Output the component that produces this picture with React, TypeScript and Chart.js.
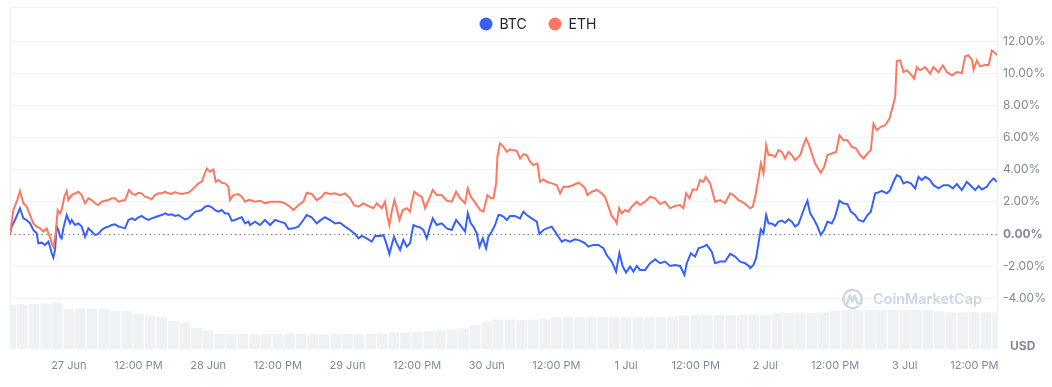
import { useEffect, useRef } from 'react';
import { Chart, registerables } from 'chart.js';

Chart.register(...registerables);

const FONT = 'Inter, "Noto Sans", "DejaVu Sans", sans-serif';
const GRID = '#eff2f5';
const TICK = '#808a9d';

const seriesNames = ['BTC', 'ETH'];
const seriesColors = ['#3861fb', '#ff775f'];

// [hours since 26 Jun 00:00, % change]
const btcPoints: [number, number][] = [
  [13.87, 0], [14.16, 0.46], [14.73, 0.87], [15.59, 1.6], [16.17, 0.97], [16.74, 0.87], [17.32, 0.66], [17.89, 0.25],
  [18.47, 0.04], [18.75, -0.58], [19.33, -0.54], [19.9, -0.68], [20.48, -0.48], [20.76, -0.79], [21.05, -1.2], [21.34, -1.47],
  [21.63, -0.99], [21.91, 0.46], [22.2, 0.25], [22.49, -0.17], [22.77, -0.27], [23.06, 0.35], [23.64, 1.18], [24.21, 0.66],
  [24.5, 0.87], [25.07, 0.56], [25.65, 0.66], [26.22, 0.46], [26.8, -0.17], [27.37, 0.35], [27.94, 0.15], [28.52, -0.06],
  [29.09, 0], [29.67, 0.25], [30.24, 0.39], [30.82, 0.46], [31.39, 0.56], [31.97, 0.6], [32.54, 0.46], [33.11, 0.41],
  [33.69, 0.35], [34.26, 0.87], [34.84, 0.97], [35.41, 0.87], [35.99, 1.04], [36.56, 1.12], [37.13, 0.97], [37.71, 0.87],
  [38.28, 0.97], [38.86, 1.04], [39.43, 1.12], [40.01, 1.18], [40.58, 1.28], [41.16, 1.18], [41.73, 1.22], [42.3, 1.12],
  [42.88, 1.18], [43.45, 1.04], [44.03, 0.91], [44.6, 0.97], [45.18, 1.18], [45.75, 1.39], [46.33, 1.43], [46.9, 1.49],
  [47.47, 1.7], [48.05, 1.76], [48.62, 1.66], [49.2, 1.49], [49.77, 1.39], [50.35, 1.49], [50.92, 1.28], [51.49, 1.28],
  [52.07, 0.83], [52.64, 0.87], [53.22, 0.97], [53.79, 1.04], [54.37, 0.66], [54.94, 0.77],
  [55.22, 0.56], [56.08, 0.77], [56.94, 0.56], [57.8, 0.87], [58.67, 0.56], [59.53, 0.87], [60.39, 0.77], [61.25, 0.66],
  [61.83, 0.31], [62.69, 0.35], [63.55, 0.46], [64.41, 0.87], [64.98, 1.18], [65.85, 1.04], [66.71, 0.66], [67.28, 0.83],
  [68.14, 1.04], [69.01, 0.87], [69.87, 0.66], [70.73, 0.7], [71.59, 0.46], [72.45, 0.25], [73.31, 0], [73.89, -0.27],
  [74.46, -0.12], [75.32, -0.27], [76.19, -0.48], [76.76, -0.12], [77.62, -0.12], [78.2, -0.06], [78.77, -0.68], [79.23, -1.24],
  [79.63, -0.68], [80.03, -0.17], [80.49, -0.58], [81.07, -0.99], [81.64, -0.37], [82.22, -0.79], [82.79, -0.58], [83.08, 0.04],
  [83.37, 0.56], [83.94, 0.46], [84.51, 0.41], [85.09, 0.25], [85.66, -0.27], [86.24, 0.46], [86.7, 0.97], [87.39, 0.56],
  [88.25, 0.66], [89.11, 0.35], [89.97, 0.25], [90.72, 0.87], [91.41, 0.56], [92.27, 0.15], [92.73, 1.28], [93.25, 0.66],
  [93.7, 0.46], [94.28, 0.04], [94.74, -0.79], [95.31, -0.27], [95.89, -0.89], [96.29, -0.17], [96.86, 0.15], [97.44, 0.56],
  [98.01, 1.18],
  [98.29, 1.18], [98.86, 1.08], [99.44, 0.87], [100.01, 1.12], [100.87, 1.12], [101.74, 0.97], [102.31, 1.39], [102.89, 1.18],
  [103.75, 0.97], [104.61, 0.77], [105.07, 0], [105.76, 0.25], [106.33, 0.35], [107.19, 0.46], [107.77, 0.15], [108.34, -0.17],
  [108.92, -0.48], [109.49, -0.37], [110.35, -0.48], [111.21, -0.33], [112.08, -0.41], [112.94, -0.58], [113.51, -0.79], [114.37, -0.68],
  [115.23, -0.68], [116.1, -0.89], [116.67, -1.31], [117.53, -1.72], [118.28, -2.34], [118.85, -1.2], [119.43, -2.03], [120.0, -2.4],
  [120.69, -2.03], [121.27, -2.34], [121.84, -1.99], [122.41, -2.24], [123.28, -2.24], [124.14, -1.82], [125.0, -1.58], [125.86, -1.82],
  [126.72, -1.72], [127.58, -1.99], [128.45, -1.93], [129.31, -1.99], [130.05, -2.55], [130.46, -1.82], [131.15, -1.2], [131.89, -1.41],
  [132.47, -0.89], [133.33, -0.79], [133.9, -0.68], [134.76, -1.1], [135.34, -1.82], [136.2, -1.72], [137.06, -1.72], [137.92, -1.24],
  [138.79, -1.41], [139.65, -1.72], [140.51, -1.82], [141.26, -2.03],
  [141.37, -2.13], [141.94, -1.93], [142.4, -1.51], [142.81, -0.58], [143.21, 0.29], [143.67, 0.04], [144.13, 1.18], [144.53, 0.66],
  [145.1, 0.66], [145.68, 0.5], [146.25, 0.77], [146.83, 0.83], [147.4, 0.7], [147.98, 0.91], [148.55, 0.77], [149.12, 0.46],
  [149.7, 0.62], [150.27, 1.18], [150.85, 1.74], [151.25, 2.07], [151.71, 1.28], [152.28, 0.97], [152.86, 0.56], [153.55, -0.06],
  [154.12, 0.25], [154.7, 0.77], [155.44, 0.66], [156.02, 1.08], [156.76, 2.07], [157.45, 1.9], [158.14, 1.86], [158.72, 1.39],
  [159.46, 1.18], [160.04, 0.87], [160.9, 0.77], [161.59, 1.18], [162.16, 1.39], [162.91, 2.53], [163.48, 2.59], [164.06, 2.69],
  [164.92, 2.53], [165.49, 2.73], [166.07, 3.25], [166.64, 3.66], [167.22, 3.56], [167.79, 3.15], [168.37, 3.25], [169.06, 3.15],
  [169.8, 2.84], [170.38, 3.56], [170.95, 3.35], [171.53, 3.56], [172.27, 3.4], [172.96, 3.04], [173.82, 2.84], [174.69, 3.04],
  [175.55, 3.04], [176.29, 2.84], [176.98, 3.11], [177.84, 2.73], [178.71, 3.25], [179.57, 2.94], [180.14, 2.73], [180.72, 2.98],
  [181.29, 2.77], [182.15, 2.94], [182.73, 3.25], [183.3, 3.46], [183.88, 3.25],
];

const ethPoints: [number, number][] = [
  [13.87, 0], [14.45, 1.49], [15.02, 2.01], [15.59, 2.67], [16.17, 1.91], [16.74, 1.7], [17.32, 1.18], [17.89, 0.66],
  [18.47, 0.46], [19.04, 0.35], [19.62, 0.15], [20.19, 0.35], [20.48, 0.04], [20.76, -0.17], [21.05, -0.58], [21.34, -0.79],
  [21.74, 0.04], [22.09, 1.49], [22.49, 1.28], [22.77, 1.49], [23.23, 2.32], [23.64, 2.67], [23.92, 2.11], [24.5, 2.42],
  [25.07, 2.53], [25.65, 2.63], [26.22, 2.42], [26.8, 1.91], [27.37, 2.22], [27.94, 2.11], [28.52, 1.91], [29.09, 1.8],
  [29.67, 2.01], [30.24, 2.07], [30.82, 2.11], [31.39, 2.22], [31.97, 2.22], [32.54, 2.01], [33.11, 2.07], [33.69, 2.11],
  [34.38, 2.74], [34.84, 2.53], [35.41, 2.42], [35.99, 2.57], [36.56, 2.53], [37.13, 2.32], [37.71, 2.26], [38.28, 2.16],
  [38.86, 2.42], [39.43, 2.53], [40.01, 2.53], [40.58, 2.63], [41.16, 2.53], [41.73, 2.49], [42.3, 2.61], [42.88, 2.53],
  [43.45, 2.49], [44.03, 2.53], [44.6, 2.57], [45.18, 2.74], [45.75, 2.94], [46.33, 3.15], [46.9, 3.25], [47.47, 3.81],
  [47.76, 4.08], [48.33, 3.88], [48.91, 4.02], [49.31, 3.25], [49.77, 3.36], [50.35, 3.19], [50.92, 3.15], [51.49, 2.94],
  [51.78, 2.11], [52.36, 2.42], [53.22, 2.49], [53.79, 2.32], [54.37, 2.01], [54.94, 2.11],
  [55.22, 2.11], [56.08, 2.01], [56.94, 2.07], [57.8, 1.91], [58.67, 2.01], [59.53, 2.01], [60.39, 2.01], [61.25, 1.91],
  [62.11, 1.7], [62.69, 1.49], [63.55, 1.8], [64.41, 2.01], [64.98, 2.57], [65.85, 2.49], [66.71, 2.11], [67.57, 2.32],
  [68.14, 2.57], [69.01, 2.49], [69.87, 2.53], [70.73, 2.42], [71.59, 2.53], [72.45, 2.22], [73.14, 1.8], [73.89, 1.7],
  [74.75, 1.91], [75.61, 1.74], [76.47, 1.6], [77.05, 1.91], [77.91, 1.6], [78.48, 2.01], [78.89, 1.08], [79.23, 0.56],
  [79.63, 1.39], [80.09, 2.11], [80.49, 1.6], [80.95, 0.87], [81.53, 1.49], [82.22, 1.6], [82.79, 1.39], [83.08, 2.01],
  [83.54, 2.63], [84.23, 2.42], [84.8, 2.32], [85.38, 1.6], [86.24, 2.32], [86.7, 2.74], [87.39, 2.42], [88.25, 2.42],
  [89.11, 2.07], [89.97, 2.01], [90.72, 2.63], [91.41, 2.22], [92.27, 1.91], [92.73, 2.84], [93.25, 2.32], [93.7, 2.11],
  [94.28, 1.8], [94.85, 1.49], [95.43, 1.39], [96.12, 2.42], [96.69, 2.22], [97.15, 2.22], [97.61, 3.15], [97.84, 4.81],
  [98.19, 5.53],
  [98.29, 5.64], [98.86, 5.43], [99.44, 5.12], [100.01, 5.26], [100.59, 5.22], [101.16, 5.18], [101.74, 4.7], [102.31, 4.97],
  [102.89, 4.91], [103.46, 4.5], [104.03, 4.29], [104.72, 4.39], [105.18, 3.25], [105.76, 3.4], [106.33, 3.25], [107.19, 3.15],
  [108.05, 3.05], [108.63, 2.53], [109.2, 2.94], [110.06, 2.94], [110.93, 3.05], [111.79, 3.19], [112.36, 3.05], [112.94, 2.84],
  [113.34, 2.42], [114.09, 2.63], [114.95, 2.74], [115.81, 2.53], [116.38, 2.32], [116.96, 1.7], [117.53, 1.12], [118.11, 0.87],
  [118.39, 0.66], [118.8, 1.6], [119.26, 1.28], [119.83, 1.49], [120.4, 1.39], [120.98, 1.7], [121.84, 2.01], [122.41, 1.8],
  [123.28, 2.01], [124.14, 2.32], [125.0, 2.22], [125.86, 1.87], [126.72, 2.01], [127.58, 1.6], [128.45, 1.74], [129.31, 1.8],
  [129.88, 1.6], [130.34, 2.53], [130.92, 2.22], [131.49, 2.78], [132.18, 2.74], [132.75, 3.36], [133.33, 3.25], [133.73, 3.56],
  [134.48, 3.15], [135.34, 2.01], [136.2, 2.11], [137.06, 1.91], [137.92, 2.53], [138.5, 2.42], [139.36, 2.11], [140.22, 1.95],
  [141.08, 1.7],
  [141.37, 1.59], [141.83, 1.7], [142.23, 2.32], [142.81, 3.46], [143.21, 4.39], [143.67, 3.77], [144.13, 5.53], [144.53, 4.91],
  [145.1, 4.91], [145.68, 4.8], [146.25, 5.22], [146.83, 5.11], [147.4, 4.7], [147.98, 5.11], [148.55, 4.91], [149.12, 4.6],
  [149.99, 4.91], [150.56, 5.53], [151.02, 5.94], [151.42, 5.63], [151.99, 5.01], [152.57, 4.39], [153.55, 3.81], [154.12, 4.18],
  [154.7, 4.91], [155.44, 5.01], [156.19, 5.11], [156.76, 6.15], [157.45, 5.84], [158.14, 5.84], [158.89, 5.42], [159.64, 5.32],
  [160.33, 4.91], [160.9, 4.7], [161.59, 5.01], [162.16, 5.22], [162.62, 6.87], [163.2, 6.46], [163.89, 6.67], [164.63, 6.77],
  [165.38, 7.18], [165.95, 7.95], [166.36, 8.53], [166.64, 10.77], [167.22, 10.81], [167.79, 10.08], [168.37, 10.19], [168.94, 9.98],
  [169.63, 9.67], [170.09, 10.39], [170.66, 10.19], [171.53, 10.39], [172.39, 9.98], [172.96, 10.39], [173.82, 10.08], [174.57, 10.5],
  [175.26, 10.08], [176.12, 9.88], [176.98, 10.08], [177.84, 10.02], [178.42, 11.06], [178.99, 11.12], [179.57, 10.85], [179.86, 10.23],
  [180.43, 10.81], [181.01, 10.43], [181.87, 10.54], [182.45, 10.5], [183.02, 11.43], [183.42, 11.32], [183.99, 11.12],
];

// Volume (relative units), one bar every 2 hours starting at hour 14
const volumeStartHour = 14;
const volumeStepHours = 2;
const volumeValues = [
  32.2, 32.6, 33.0, 33.3, 33.9, 29.2, 29.6, 29.6, 29.2, 27.8, // 14..32
  27.8, 25.6, 24.5, 23.4, 20.5, 19.5, 15.4, 13.5, 11.0, 11.0, // 34..52
  11.0, 10.8, 11.0, 11.0, 11.2, 11.0, 10.8, 10.8, 11.0, 11.0, // 54..72
  10.8, 11.0, 11.5, 12.0, 12.0, 12.5, 13.0, 13.5, 14.2, 15.0, // 74..92
  17.5, 20.0, 21.5, 21.5, 21.0, 21.5, 22.0, 23.4, 23.4, 23.4, // 94..112
  23.0, 23.4, 23.4, 23.4, 23.4, 23.0, 23.4, 23.4, 24.5, 25.0, // 114..132
  25.0, 25.0, 24.8, 25.0, 25.0, 25.0, 26.3, 26.5, 26.5, 26.5, // 134..152
  26.5, 28.0, 28.5, 28.5, 28.5, 28.5, 28.5, 28.5, 28.5, 28.5, // 154..172
  27.5, 26.8, 26.8, 26.8, 26.8, 26.8, // 174..184
];

const xTickHours = [24, 36, 48, 60, 72, 84, 96, 108, 120, 132, 144, 156, 168, 180];
const xTickLabels = ['27 Jun', '12:00 PM', '28 Jun', '12:00 PM', '29 Jun', '12:00 PM', '30 Jun', '12:00 PM', '1 Jul', '12:00 PM', '2 Jul', '12:00 PM', '3 Jul', '12:00 PM'];
const yTickValues = [-4, -2, 0, 2, 4, 6, 8, 10, 12];

const X_MIN = 13.87;
const X_MAX = 183.9;
const Y_MIN = -7.16;
const Y_MAX = 14.13;

const decorPlugin = {
  id: 'decor',
  beforeDatasetsDraw(chart: any) {
    const { ctx, chartArea: a, scales } = chart;
    ctx.save();
    ctx.strokeStyle = GRID;
    ctx.lineWidth = 1;
    ctx.beginPath();
    ctx.moveTo(a.left + 0.5, a.bottom);
    ctx.lineTo(a.left + 0.5, a.top + 0.5);
    ctx.lineTo(a.right + 0.5, a.top + 0.5);
    ctx.lineTo(a.right + 0.5, a.bottom);
    ctx.stroke();
    const y0 = Math.round(scales.y.getPixelForValue(0)) + 0.5;
    ctx.strokeStyle = '#7d8390';
    ctx.setLineDash([1.5, 3]);
    ctx.beginPath();
    ctx.moveTo(a.left, y0);
    ctx.lineTo(a.right, y0);
    ctx.stroke();
    ctx.restore();
  },
  afterDraw(chart: any) {
    const { ctx, chartArea: a } = chart;
    ctx.save();
    // Legend
    const legendY = 24;
    const items = [
      { name: seriesNames[0], color: seriesColors[0], cx: 486 },
      { name: seriesNames[1], color: seriesColors[1], cx: 555 },
    ];
    ctx.font = `14px ${FONT}`;
    ctx.textBaseline = 'middle';
    ctx.textAlign = 'left';
    for (const it of items) {
      ctx.fillStyle = it.color;
      ctx.beginPath();
      ctx.arc(it.cx, legendY, 6.5, 0, Math.PI * 2);
      ctx.fill();
      ctx.fillStyle = '#222531';
      ctx.fillText(it.name, it.cx + 13.5, legendY + 1);
    }
    // Watermark
    const wmColor = '#cfd6e2';
    const cx = 852.5, cy = 299;
    ctx.strokeStyle = wmColor;
    ctx.lineWidth = 2.4;
    ctx.lineCap = 'round';
    ctx.lineJoin = 'round';
    ctx.beginPath();
    ctx.arc(cx, cy, 9.2, Math.PI * 0.3, Math.PI * 2.15);
    ctx.stroke();
    ctx.beginPath();
    ctx.moveTo(cx - 5.5, cy + 4.5);
    ctx.lineTo(cx - 2.6, cy - 3.5);
    ctx.lineTo(cx - 0.2, cy + 2.5);
    ctx.lineTo(cx + 2.4, cy - 3.5);
    ctx.lineTo(cx + 4.2, cy + 2.5);
    ctx.quadraticCurveTo(cx + 6, cy + 6.5, cx + 9, cy + 4);
    ctx.stroke();
    ctx.font = `600 100px ${FONT}`;
    const w100 = ctx.measureText('CoinMarketCap').width;
    const size = (109 / w100) * 100;
    ctx.font = `600 ${size.toFixed(2)}px ${FONT}`;
    ctx.fillStyle = wmColor;
    ctx.textBaseline = 'middle';
    ctx.fillText('CoinMarketCap', 873, cy + 0.5);
    // Currency label
    ctx.font = `bold 12px ${FONT}`;
    ctx.fillStyle = TICK;
    ctx.textAlign = 'left';
    ctx.fillText('USD', a.right + 13, 346);
    ctx.restore();
  },
};

export default function App() {
  const canvasRef = useRef<HTMLCanvasElement | null>(null);

  useEffect(() => {
    if (!canvasRef.current) return;
    Chart.defaults.font.family = FONT;
    const chart = new Chart(canvasRef.current, {
      type: 'line',
      data: {
        datasets: [
          {
            type: 'line',
            label: seriesNames[0],
            data: btcPoints.map(([x, y]) => ({ x, y })),
            borderColor: seriesColors[0],
            backgroundColor: seriesColors[0],
            borderWidth: 2,
            pointRadius: 0,
            tension: 0,
            yAxisID: 'y',
            order: 1,
          },
          {
            type: 'line',
            label: seriesNames[1],
            data: ethPoints.map(([x, y]) => ({ x, y })),
            borderColor: seriesColors[1],
            backgroundColor: seriesColors[1],
            borderWidth: 2,
            pointRadius: 0,
            tension: 0,
            yAxisID: 'y',
            order: 0,
          },
          {
            type: 'bar',
            label: 'Volume',
            data: volumeValues.map((v, i) => ({ x: volumeStartHour + i * volumeStepHours, y: v })),
            backgroundColor: '#eff2f5',
            borderWidth: 0,
            barPercentage: 0.92,
            categoryPercentage: 1,
            yAxisID: 'y2',
            order: 5,
          } as any,
        ],
      },
      options: {
        animation: false,
        responsive: true,
        maintainAspectRatio: false,
        layout: { padding: { left: 10, top: 7, right: 0, bottom: 0 } },
        plugins: { legend: { display: false }, tooltip: { enabled: false } },
        scales: {
          x: {
            type: 'linear',
            offset: false,
            min: X_MIN,
            max: X_MAX,
            grid: { display: false, drawTicks: false, offset: false },
            border: { display: false },
            afterBuildTicks: (scale: any) => {
              scale.ticks = xTickHours.map((v) => ({ value: v }));
            },
            afterFit: (scale: any) => {
              scale.height = 38;
              scale.paddingLeft = 0;
              scale.paddingRight = 0;
            },
            ticks: {
              autoSkip: false,
              maxRotation: 0,
              padding: 10,
              color: TICK,
              font: { size: 11, family: FONT },
              callback: (_v: any, i: number) => xTickLabels[i],
            },
          },
          y: {
            type: 'linear',
            position: 'right',
            min: Y_MIN,
            max: Y_MAX,
            grid: {
              drawTicks: false,
              color: (c: any) => (c.tick && c.tick.value === 0 ? 'rgba(0,0,0,0)' : GRID),
            },
            border: { display: false },
            afterBuildTicks: (scale: any) => {
              scale.ticks = yTickValues.map((v) => ({ value: v }));
            },
            afterFit: (scale: any) => {
              scale.width = 55;
              scale.paddingTop = 0;
              scale.paddingBottom = 0;
            },
            ticks: {
              padding: 6,
              color: TICK,
              font: (c: any) => ({
                size: 12,
                family: FONT,
                weight: c.tick && c.tick.value === 0 ? 'bold' : 'normal',
              }),
              callback: (v: any) => Number(v).toFixed(2) + '%',
            },
          },
          y2: {
            type: 'linear',
            display: false,
            min: 0,
            max: 250,
          },
        },
      },
      plugins: [decorPlugin],
    } as any);
    return () => chart.destroy();
  }, []);

  return (
    <div style={{ position: 'absolute', left: 0, top: 0, width: '1052px', height: '387px', background: '#fff' }}>
      <canvas ref={canvasRef} />
    </div>
  );
}
